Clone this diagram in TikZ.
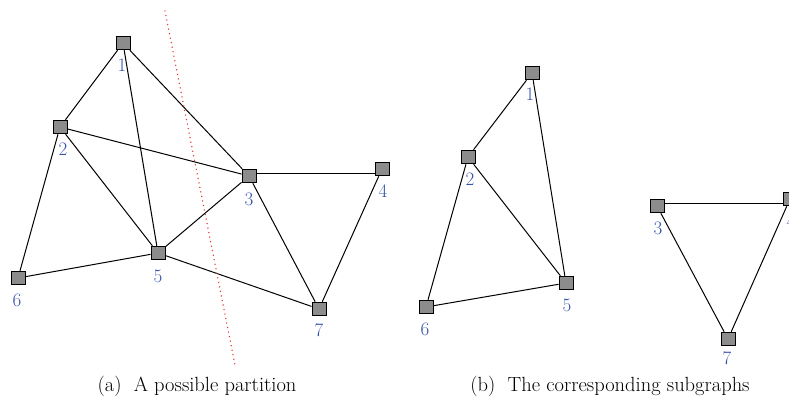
\documentclass[tikz,border=0pt]{standalone}
\usetikzlibrary{calc}
\definecolor{lblblue}{RGB}{52,82,172}
\definecolor{boxgray}{RGB}{140,140,140}
\definecolor{cutred}{RGB}{232,45,45}
\tikzset{
  vtx/.style={draw=black, fill=boxgray, line width=1pt, minimum width=14pt, minimum height=13.5pt, inner sep=0pt},
  lbl/.style={text=lblblue, font=\fontsize{19}{22}\selectfont, inner sep=0pt},
  edge/.style={draw=black, line width=1pt},
  cutline/.style={draw=cutred, line width=1.5pt, dash pattern=on 0.01pt off 4.6pt, line cap=round},
  captxt/.style={font=\fontsize{20.5}{24}\selectfont, inner sep=0pt}
}
\begin{document}
\begin{tikzpicture}[x=1pt,y=-1pt]
\useasboundingbox (0,0) rectangle (789,410);
% ---------- left graph ----------
\node[vtx] (a1) at (123,43) {};
\node[vtx] (a2) at (60,127) {};
\node[vtx] (a3) at (249,176) {};
\node[vtx] (a4) at (382,169) {};
\node[vtx] (a5) at (158,253) {};
\node[vtx] (a6) at (18,278) {};
\node[vtx] (a7) at (319,309) {};
\draw[edge] (a1) -- (a2);
\draw[edge] (a1) -- (a5);
\draw[edge] (a1) -- (a3);
\draw[edge] (a2) -- (a3);
\draw[edge] (a2) -- (a5);
\draw[edge] (a2) -- (a6);
\draw[edge] ([yshift=3pt]a3.east) -- ([yshift=-4pt]a4.west);
\draw[edge] (a3) -- (a5);
\draw[edge] (a3) -- (a7);
\draw[edge] (a4) -- (a7);
\draw[edge] (a5) -- (a6);
\draw[edge] (a5) -- (a7);
\node[lbl] (la1) at (122,65) {1};
\node[lbl] (la2) at (63,149) {2};
\node[lbl] (la3) at (249,199) {3};
\node[lbl] (la4) at (383,191) {4};
\node[lbl] (la5) at (158,276) {5};
\node[lbl] (la6) at (17,300) {6};
\node[lbl] (la7) at (319,330) {7};
\coordinate (ct) at (165,11);
\coordinate (cb) at (235,365);
\draw[cutline] (ct) -- (cb);
% ---------- right graphs ----------
\node[vtx] (b1) at (532,73) {};
\node[vtx] (b2) at (468,157) {};
\node[vtx] (b5) at (566,283) {};
\node[vtx] (b6) at (426,307) {};
\node[vtx] (b3) at (657,206) {};
\node[vtx] (b4) at (790,199) {};
\node[vtx] (b7) at (728,339) {};
\draw[edge] (b1) -- (b2);
\draw[edge] (b1) -- (b5);
\draw[edge] (b2) -- (b5);
\draw[edge] (b2) -- (b6);
\draw[edge] (b5) -- (b6);
\draw[edge] ([yshift=3pt]b3.east) -- ([yshift=-4pt]b4.west);
\draw[edge] (b3) -- (b7);
\draw[edge] (b4) -- (b7);
\node[lbl] (lb1) at (530,94) {1};
\node[lbl] (lb2) at (470,179) {2};
\node[lbl] (lb5) at (567,305) {5};
\node[lbl] (lb6) at (425,329) {6};
\node[lbl] (lb3) at (658,228) {3};
\node[lbl] (lb4) at (791,221) {4};
\node[lbl] (lb7) at (727,358) {7};
% ---------- captions ----------
\node[captxt] (capa) at (197,386) {(a)\hspace{0.6em}A possible partition};
\node[captxt] (capb) at (610,386) {(b)\hspace{0.6em}The corresponding subgraphs};
\end{tikzpicture}
\end{document}
